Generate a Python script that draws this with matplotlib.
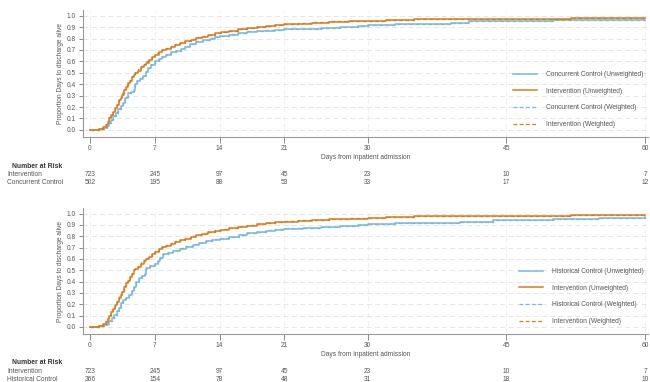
import matplotlib
matplotlib.use("Agg")
import matplotlib.pyplot as plt
from matplotlib.transforms import blended_transform_factory

plt.rcParams["font.family"] = ["Liberation Sans", "DejaVu Sans"]

# ---------------- data ----------------
xticks = [0, 7, 14, 21, 30, 45, 60]
yticks = [0.0, 0.1, 0.2, 0.3, 0.4, 0.5, 0.6, 0.7, 0.8, 0.9, 1.0]

int_days = [0, 0.5, 1.0, 1.4, 1.7, 1.9, 2.1, 2.3, 2.5, 2.7, 2.9, 3.1, 3.3, 3.5, 3.7, 3.9,
            4.1, 4.3, 4.5, 4.7, 4.9, 5.2, 5.5, 5.8, 6.1, 6.4, 6.7, 7.0, 7.4, 7.8, 8.2, 8.7,
            9.2, 9.7, 10.3, 10.9, 11.5, 12.1, 12.8, 13.5, 14.2, 15.0, 16.0, 17.0, 18.0, 19.0,
            20.0, 21.0, 22.5, 24.0, 25.8, 28.0, 30.0, 32.0, 35.0, 39.0, 45.0, 52.0, 60.0]
int_vals = [0.0, 0.003, 0.01, 0.025, 0.045, 0.07, 0.10, 0.13, 0.16, 0.19, 0.22, 0.26, 0.28,
            0.31, 0.35, 0.38, 0.41, 0.43, 0.46, 0.48, 0.50, 0.52, 0.55, 0.57, 0.59, 0.61, 0.64,
            0.66, 0.68, 0.70, 0.71, 0.73, 0.745, 0.76, 0.775, 0.79, 0.805, 0.815, 0.83, 0.845,
            0.855, 0.865, 0.88, 0.89, 0.90, 0.91, 0.918, 0.925, 0.93, 0.938, 0.945, 0.95,
            0.955, 0.963, 0.967, 0.972, 0.975, 0.976, 0.977]
int_w_vals = [0.0, 0.003, 0.01, 0.027, 0.05, 0.075, 0.11, 0.14, 0.17, 0.20, 0.23, 0.27, 0.29,
              0.32, 0.36, 0.39, 0.42, 0.44, 0.47, 0.49, 0.51, 0.53, 0.56, 0.58, 0.60, 0.62,
              0.65, 0.67, 0.69, 0.705, 0.72, 0.735, 0.75, 0.765, 0.78, 0.795, 0.81, 0.82,
              0.835, 0.85, 0.86, 0.87, 0.884, 0.894, 0.904, 0.913, 0.921, 0.928, 0.935, 0.943,
              0.95, 0.954, 0.957, 0.963, 0.967, 0.972, 0.975, 0.976, 0.977]

cc_days = [0, 1.0, 1.5, 1.8, 2.1, 2.3, 2.5, 2.8, 3.0, 3.3, 3.6, 3.8, 4.1, 4.4, 4.7, 4.9, 5.1,
           5.4, 5.7, 6.0, 6.3, 6.6, 7.0, 7.4, 7.8, 8.2, 8.7, 9.3, 9.8, 10.3, 10.8, 11.5, 12.2,
           13.0, 13.5, 14.0, 15.0, 16.0, 17.0, 18.0, 19.0, 20.0, 21.0, 23.0, 25.0, 27.0, 29.0,
           30.0, 33.0, 36.0, 39.0, 41.0, 45.0, 50.0, 55.0, 60.0]
cc_vals = [0.0, 0.005, 0.015, 0.03, 0.06, 0.09, 0.12, 0.15, 0.18, 0.21, 0.24, 0.28, 0.32, 0.33,
           0.35, 0.40, 0.43, 0.45, 0.47, 0.51, 0.54, 0.57, 0.60, 0.62, 0.64, 0.66, 0.68, 0.69,
           0.71, 0.73, 0.75, 0.77, 0.785, 0.80, 0.81, 0.82, 0.835, 0.85, 0.86, 0.865, 0.87,
           0.875, 0.88, 0.885, 0.89, 0.90, 0.91, 0.92, 0.925, 0.93, 0.94, 0.95, 0.955, 0.96,
           0.962, 0.965]
cc_w_vals = [0.0, 0.005, 0.015, 0.03, 0.06, 0.09, 0.12, 0.15, 0.18, 0.215, 0.245, 0.285, 0.32,
             0.335, 0.355, 0.40, 0.435, 0.455, 0.475, 0.515, 0.545, 0.575, 0.60, 0.625, 0.645,
             0.665, 0.685, 0.695, 0.715, 0.735, 0.755, 0.775, 0.79, 0.803, 0.813, 0.823, 0.838,
             0.852, 0.862, 0.867, 0.872, 0.877, 0.882, 0.887, 0.892, 0.90, 0.91, 0.92, 0.925,
             0.93, 0.94, 0.95, 0.955, 0.96, 0.962, 0.965]

hc_days = [0, 1.0, 1.5, 1.8, 2.1, 2.4, 2.6, 2.9, 3.1, 3.4, 3.6, 3.9, 4.2, 4.5, 4.7, 5.0, 5.3,
           5.6, 5.9, 6.1, 6.5, 7.0, 7.3, 7.6, 7.9, 8.4, 9.0, 9.7, 10.4, 11.1, 11.8, 12.5, 13.2,
           14.0, 15.0, 16.1, 17.0, 18.0, 19.0, 20.0, 21.0, 23.0, 25.0, 27.0, 29.0, 30.0, 33.0,
           36.0, 40.0, 43.6, 45.0, 50.0, 55.0, 60.0]
hc_vals = [0.0, 0.005, 0.015, 0.03, 0.05, 0.08, 0.11, 0.14, 0.17, 0.21, 0.24, 0.26, 0.28,
           0.32, 0.35, 0.40, 0.43, 0.45, 0.47, 0.52, 0.54, 0.56, 0.58, 0.61, 0.64, 0.655, 0.67,
           0.69, 0.71, 0.725, 0.74, 0.755, 0.77, 0.78, 0.795, 0.81, 0.825, 0.84, 0.85, 0.86,
           0.868, 0.872, 0.88, 0.89, 0.90, 0.91, 0.915, 0.92, 0.93, 0.94, 0.945, 0.955, 0.96,
           0.97]
hc_w_vals = [0.0, 0.005, 0.015, 0.03, 0.05, 0.08, 0.11, 0.14, 0.17, 0.215, 0.245, 0.265, 0.285,
             0.325, 0.355, 0.40, 0.435, 0.455, 0.475, 0.52, 0.545, 0.565, 0.585, 0.615, 0.645,
             0.66, 0.675, 0.695, 0.715, 0.73, 0.745, 0.76, 0.773, 0.783, 0.798, 0.813, 0.828,
             0.842, 0.852, 0.862, 0.87, 0.874, 0.882, 0.892, 0.90, 0.91, 0.915, 0.92, 0.93,
             0.94, 0.945, 0.955, 0.96, 0.97]

int2_vals = [0.0, 0.003, 0.01, 0.025, 0.045, 0.07, 0.10, 0.13, 0.16, 0.19, 0.22, 0.26, 0.28,
             0.31, 0.35, 0.39, 0.41, 0.44, 0.47, 0.50, 0.51, 0.53, 0.56, 0.58, 0.60, 0.62, 0.64,
             0.665, 0.685, 0.705, 0.715, 0.735, 0.75, 0.765, 0.78, 0.795, 0.81, 0.82, 0.835,
             0.85, 0.86, 0.87, 0.885, 0.895, 0.905, 0.915, 0.923, 0.93, 0.937, 0.945, 0.952,
             0.957, 0.96, 0.972, 0.976, 0.98, 0.982, 0.984, 0.985]
int2_w_vals = [0.0, 0.003, 0.01, 0.027, 0.05, 0.075, 0.11, 0.14, 0.17, 0.20, 0.23, 0.27, 0.29,
               0.32, 0.36, 0.40, 0.42, 0.45, 0.48, 0.51, 0.52, 0.54, 0.57, 0.59, 0.61, 0.63,
               0.65, 0.672, 0.692, 0.71, 0.72, 0.74, 0.755, 0.77, 0.785, 0.80, 0.814, 0.824,
               0.839, 0.854, 0.864, 0.874, 0.888, 0.898, 0.908, 0.917, 0.925, 0.932, 0.94,
               0.948, 0.955, 0.959, 0.962, 0.972, 0.976, 0.98, 0.982, 0.984, 0.985]

risk_int = [723, 245, 97, 45, 23, 10, 7]
risk_cc = [502, 195, 88, 53, 33, 17, 12]
risk_hc = [366, 154, 78, 48, 31, 18, 10]

BLUE = "#78b8e0"
ORANGE = "#d97d1c"
TXT = "#555555"
FS = 4.8

fig = plt.figure(figsize=(6.5, 3.82), dpi=100)
W, H = 650.0, 382.0


def make_panel(top_px, bottom_px, ctrl_name, c_days, c_vals, c_w, i_vals, i_w,
               risk_c, legend_xy, nar_y):
    ax = fig.add_axes([83 / W, 1 - bottom_px / H, 565 / W, (bottom_px - top_px) / H])
    ax.step(c_days, c_vals, where="post", color=BLUE, lw=1.1,
            label=f"{ctrl_name} (Unweighted)", zorder=3)
    ax.step(int_days, i_vals, where="post", color=ORANGE, lw=1.1,
            label="Intervention (Unweighted)", zorder=4)
    ax.step(c_days, c_w, where="post", color=BLUE, lw=0.9, ls=(0, (3, 2)),
            label=f"{ctrl_name} (Weighted)", zorder=3)
    ax.step(int_days, i_w, where="post", color=ORANGE, lw=0.9, ls=(0, (3, 2)),
            label="Intervention (Weighted)", zorder=4)
    ax.set_xlim(-0.76, 60.3)
    ax.set_ylim(-0.062, 1.05)
    ax.set_xticks(xticks)
    ax.set_xticklabels([str(t) for t in xticks])
    ax.set_yticks(yticks)
    ax.set_yticklabels([f"{t:.1f}" for t in yticks])
    ax.tick_params(axis="both", labelsize=FS, colors="#777777", labelcolor=TXT,
                   length=3, width=0.6, pad=2)
    ax.tick_params(axis="x", length=4, pad=2)
    for s in ["top", "right"]:
        ax.spines[s].set_visible(False)
    for s in ["left", "bottom"]:
        ax.spines[s].set_color("#999999")
        ax.spines[s].set_linewidth(0.8)
    ax.grid(axis="y", color="#e2e2e2", ls=(0, (6, 4)), lw=0.6)
    ax.grid(axis="x", color="#eeeeee", ls=(0, (6, 4)), lw=0.6)
    ax.set_axisbelow(True)
    ax.set_ylabel("Proportion Days to discharge alive", fontsize=FS, color=TXT, labelpad=2)
    ax.set_xlabel("Days from inpatient admission", fontsize=FS, color=TXT, labelpad=1)
    leg = ax.legend(loc="upper left", bbox_to_anchor=(legend_xy[0] / W, 1 - legend_xy[1] / H),
                    bbox_transform=fig.transFigure, frameon=False, fontsize=FS,
                    labelspacing=1.45, handlelength=3.6, handletextpad=1.4,
                    borderpad=0, borderaxespad=0)
    for t in leg.get_texts():
        t.set_color(TXT)
    # number at risk table
    tr = blended_transform_factory(ax.transData, fig.transFigure)
    fig.text(62 / W, 1 - nar_y / H, "Number at Risk", fontsize=4.9, fontweight="bold",
             ha="right", va="center", color="#333333")
    fig.text(7 / W, 1 - (nar_y + 8.5) / H, "Intervention", fontsize=FS, ha="left",
             va="center", color=TXT)
    fig.text(7 / W, 1 - (nar_y + 16.5) / H, ctrl_name, fontsize=FS, ha="left",
             va="center", color=TXT)
    for x, a, b in zip(xticks, risk_int, risk_c):
        ax.text(x, 1 - (nar_y + 8.5) / H, str(a), transform=tr, fontsize=FS,
                ha="center", va="center", color=TXT, clip_on=False)
        ax.text(x, 1 - (nar_y + 16.5) / H, str(b), transform=tr, fontsize=FS,
                ha="center", va="center", color=TXT, clip_on=False)
    return ax


make_panel(10, 137, "Concurrent Control", cc_days, cc_vals, cc_w_vals, int_vals, int_w_vals,
           risk_cc, (513, 71), 166)
make_panel(208, 334, "Historical Control", hc_days, hc_vals, hc_w_vals, int2_vals, int2_w_vals,
           risk_hc, (519, 268), 363)

fig.savefig("out.png", dpi=100)
